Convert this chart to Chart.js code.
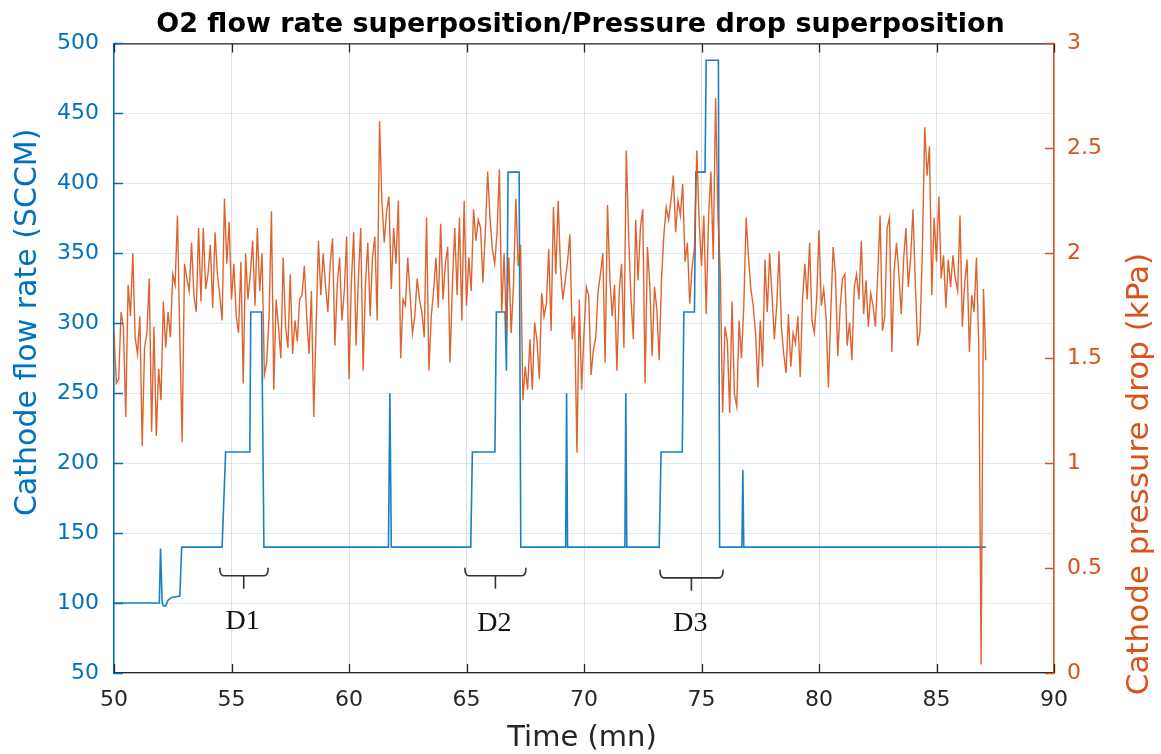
<!DOCTYPE html>
<html>
<head>
<meta charset="utf-8">
<title>O2 flow rate superposition / Pressure drop superposition</title>
<script src="https://cdn.jsdelivr.net/npm/chart.js@4.4.1/dist/chart.umd.min.js"></script>
<style>
  html, body { margin: 0; padding: 0; background: #fff; }
  #chart { display: block; background: #fff; }
</style>
</head>
<body>
<canvas id="chart" width="1161" height="754"></canvas>
<script>
// axis ticks
const timeTicks = [50, 55, 60, 65, 70, 75, 80, 85, 90];
const flowTicks = [50, 100, 150, 200, 250, 300, 350, 400, 450, 500];
const pressureTicks = [0, 0.5, 1, 1.5, 2, 2.5, 3];

// O2 flow rate (SCCM), step profile
const flowTime = [50.0, 51.93, 51.98, 52.05, 52.1, 52.2, 52.3, 52.45, 52.8, 52.88,
    54.6, 54.75, 55.78, 55.82, 56.28, 56.38,
    61.68, 61.74, 61.8,
    65.18, 65.25, 66.21, 66.27, 66.64, 66.70, 66.77, 67.24, 67.31,
    69.22, 69.26, 69.30, 71.74, 71.78, 71.82,
    73.2, 73.28, 74.18, 74.25, 74.7, 74.76, 75.15, 75.2, 75.72, 75.77,
    76.72, 76.76, 76.8, 87.1];
const flowRate = [100, 100, 139, 100, 98, 98, 102, 104, 105, 140,
    140, 208, 208, 308, 308, 140,
    140, 250, 140,
    140, 208, 208, 308, 308, 266, 408, 408, 140,
    140, 250, 140, 140, 250, 140,
    140, 208, 208, 308, 308, 408, 408, 488, 488, 140,
    140, 195, 140, 140];

// cathode pressure drop (kPa), one reading every 0.1 mn from 50.0
const pressureStart = 50.0;
const pressureStep = 0.1;
const pressureDrop = [
    1.62, 1.38, 1.40, 1.72, 1.65, 1.22, 1.85, 1.70, 2.00, 1.60, // 50
    1.52, 1.70, 1.08, 1.55, 1.62, 1.88, 1.15, 1.65, 1.13, 1.45, // 51
    1.30, 1.77, 1.55, 1.72, 1.60, 1.90, 1.85, 2.18, 1.60, 1.10, // 52
    1.95, 1.88, 1.82, 2.05, 1.80, 1.72, 2.12, 1.77, 2.12, 1.83, // 53
    1.90, 2.04, 1.74, 2.10, 1.90, 1.80, 1.68, 2.26, 1.95, 2.15, // 54
    1.78, 1.95, 1.70, 1.62, 1.96, 1.38, 2.00, 1.78, 1.90, 2.06, // 55
    1.75, 2.12, 1.82, 2.00, 1.42, 1.48, 1.70, 2.20, 1.35, 1.78, // 56
    1.65, 1.50, 1.98, 1.65, 1.55, 1.90, 1.52, 1.68, 1.58, 1.78, // 57
    1.80, 1.94, 1.70, 1.52, 1.82, 1.22, 1.65, 2.06, 1.80, 2.00, // 58
    1.85, 1.72, 1.95, 2.07, 1.56, 1.85, 1.98, 1.68, 1.82, 2.08, // 59
    1.40, 1.86, 2.10, 1.56, 1.88, 2.12, 1.44, 1.85, 2.05, 1.70, // 60
    1.98, 2.08, 1.68, 2.63, 2.25, 2.05, 2.20, 2.27, 1.83, 2.12, // 61
    1.95, 2.25, 1.50, 1.78, 1.75, 1.98, 1.80, 1.62, 1.70, 1.88, // 62
    1.78, 1.72, 1.60, 2.17, 1.44, 1.70, 1.82, 1.98, 1.74, 2.14, // 63
    1.78, 1.95, 2.03, 1.48, 1.85, 2.12, 1.80, 2.17, 1.68, 2.25, // 64
    1.75, 1.98, 1.82, 2.21, 2.06, 2.16, 2.12, 1.86, 2.10, 2.39, // 65
    2.17, 2.02, 1.95, 2.10, 2.40, 1.72, 2.00, 1.63, 1.98, 1.62, // 66
    1.85, 2.26, 1.94, 2.04, 1.30, 1.46, 1.35, 1.59, 1.35, 1.67, // 67
    1.58, 1.40, 1.81, 1.70, 1.76, 2.02, 1.63, 2.22, 1.90, 2.25, // 68
    1.93, 1.78, 1.87, 1.96, 2.09, 1.59, 1.70, 1.05, 1.78, 1.35, // 69
    1.62, 1.84, 1.80, 1.42, 1.54, 1.60, 1.82, 1.90, 2.00, 1.48, // 70
    2.23, 1.88, 1.70, 1.85, 1.44, 1.82, 1.95, 1.55, 2.49, 2.08, // 71
    1.78, 1.59, 2.16, 1.87, 2.12, 2.21, 1.38, 2.03, 1.85, 1.51, // 72
    1.84, 1.73, 1.49, 1.88, 2.09, 2.22, 2.16, 2.25, 2.37, 2.10, // 73
    2.25, 2.18, 2.33, 1.96, 2.05, 1.76, 1.93, 2.03, 2.49, 2.15, // 74
    1.94, 2.18, 1.71, 2.17, 2.39, 1.97, 2.74, 2.18, 1.90, 1.24, // 75
    1.65, 1.58, 1.24, 1.77, 1.33, 1.27, 1.68, 1.50, 1.75, 2.17, // 76
    1.98, 1.83, 1.75, 1.62, 1.36, 1.68, 1.46, 1.97, 1.72, 2.00, // 77
    1.80, 1.59, 1.75, 2.01, 1.65, 1.52, 1.43, 1.71, 1.46, 1.62, // 78
    1.57, 1.70, 1.41, 1.78, 1.95, 1.78, 2.05, 1.68, 1.62, 1.78, // 79
    2.11, 1.75, 1.83, 1.70, 1.36, 1.71, 2.03, 1.90, 1.51, 1.74, // 80
    1.88, 1.90, 1.56, 1.67, 1.49, 1.84, 1.90, 1.78, 2.06, 1.71, // 81
    1.87, 1.65, 1.81, 1.75, 1.65, 1.90, 2.18, 1.63, 1.70, 2.12, // 82
    2.17, 1.53, 1.92, 2.05, 1.90, 1.71, 1.97, 2.12, 1.84, 1.98, // 83
    2.21, 1.85, 1.56, 1.63, 2.02, 2.60, 2.37, 2.51, 1.80, 2.17, // 84
    1.96, 2.27, 1.88, 1.99, 1.74, 1.97, 1.84, 1.99, 1.88, 1.82, // 85
    2.18, 1.65, 1.86, 1.97, 1.53, 1.80, 1.72, 1.98, 1.55, 0.04, // 86
    1.83, 1.49                                                  // 87
];

// D1..D3 brackets under the flow steps (time in mn, level in SCCM)
const stepLabels = ['D1', 'D2', 'D3'];
const stepFrom = [54.50, 64.93, 73.23];
const stepTo = [56.56, 67.53, 75.92];
const stepMid = [55.52, 66.23, 74.57];
const stepLevel = [119.5, 119.5, 118];
const stepTextLevel = [86.5, 85, 85];

const BLUE = '#0072BD';
const ORANGE = '#D95319';
const DARK = '#262626';
const FONT = 'DejaVu Sans';

const flowPoints = flowTime.map((t, i) => ({ x: t, y: flowRate[i] }));
const pressurePoints = pressureDrop.map((v, i) => ({
    x: +(pressureStart + i * pressureStep).toFixed(2),
    y: v
}));

const useTicks = (list) => (scale) => {
    scale.ticks = list.map(v => ({ value: v }));
};

function drawText(ctx, text, x, y, font, color, angle) {
    ctx.save();
    ctx.translate(x, y);
    ctx.rotate(angle || 0);
    ctx.font = font;
    ctx.fillStyle = color;
    ctx.textAlign = 'center';
    ctx.textBaseline = 'middle';
    ctx.fillText(text, 0, 0);
    ctx.restore();
}

// matlab-like frame: inward ticks, top box line, rotated axis labels, D brackets
const matlabFrame = {
    id: 'matlabFrame',
    afterDraw(chart) {
        const { ctx, chartArea: a, scales } = chart;
        const sx = scales.x, sy = scales.y, sy1 = scales.y1;
        const tick = 9;

        ctx.save();
        ctx.lineWidth = 1.3;
        ctx.strokeStyle = DARK;
        ctx.beginPath();
        ctx.moveTo(a.left, a.top + 0.5);
        ctx.lineTo(a.right, a.top + 0.5);
        timeTicks.forEach(t => {
            const px = Math.round(sx.getPixelForValue(t)) + 0.5;
            ctx.moveTo(px, a.bottom);
            ctx.lineTo(px, a.bottom - tick);
            ctx.moveTo(px, a.top);
            ctx.lineTo(px, a.top + tick);
        });
        ctx.stroke();

        ctx.strokeStyle = BLUE;
        ctx.beginPath();
        flowTicks.forEach(v => {
            const py = Math.round(sy.getPixelForValue(v)) + 0.5;
            ctx.moveTo(a.left, py);
            ctx.lineTo(a.left + tick, py);
        });
        ctx.stroke();

        ctx.strokeStyle = ORANGE;
        ctx.beginPath();
        pressureTicks.forEach(v => {
            const py = Math.round(sy1.getPixelForValue(v)) + 0.5;
            ctx.moveTo(a.right, py);
            ctx.lineTo(a.right - tick, py);
        });
        ctx.stroke();

        // brackets
        ctx.strokeStyle = '#333';
        ctx.lineWidth = 1.6;
        stepLabels.forEach((label, i) => {
            const x0 = sx.getPixelForValue(stepFrom[i]);
            const x1 = sx.getPixelForValue(stepTo[i]);
            const xm = sx.getPixelForValue(stepMid[i]);
            const yl = sy.getPixelForValue(stepLevel[i]);
            ctx.beginPath();
            ctx.moveTo(x0, yl - 8);
            ctx.quadraticCurveTo(x0, yl, x0 + 4, yl);
            ctx.lineTo(x1 - 4, yl);
            ctx.quadraticCurveTo(x1, yl, x1, yl - 8);
            ctx.moveTo(xm, yl);
            ctx.lineTo(xm, yl + 13);
            ctx.stroke();
            drawText(ctx, label, xm - 1, sy.getPixelForValue(stepTextLevel[i]),
                '28px "Liberation Serif"', '#111', 0);
        });

        // axis titles
        const h = a.bottom - a.top;
        drawText(ctx, 'Time (mn)', (a.left + a.right) / 2 - 2, a.bottom + 65,
            '29px "' + FONT + '"', DARK, 0);
        drawText(ctx, 'Cathode flow rate (SCCM)', 28, a.top + 0.443 * h,
            '30px "' + FONT + '"', BLUE, -Math.PI / 2);
        drawText(ctx, 'Cathode pressure drop (kPa)', 1140, a.top + 0.684 * h,
            '31px "' + FONT + '"', ORANGE, -Math.PI / 2);
        ctx.restore();
    }
};

new Chart(document.getElementById('chart'), {
    type: 'line',
    data: {
        datasets: [{
            label: 'Cathode pressure drop',
            data: pressurePoints,
            yAxisID: 'y1',
            borderColor: 'rgba(217, 83, 25, 0.9)',
            borderWidth: 1.4,
            pointRadius: 0,
            tension: 0
        }, {
            label: 'Cathode flow rate',
            data: flowPoints,
            yAxisID: 'y',
            borderColor: 'rgba(0, 114, 189, 0.9)',
            borderWidth: 1.6,
            pointRadius: 0,
            tension: 0
        }]
    },
    options: {
        responsive: false,
        animation: false,
        devicePixelRatio: 1,
        plugins: {
            legend: { display: false },
            tooltip: { enabled: false },
            title: {
                display: true,
                text: 'O2 flow rate superposition/Pressure drop superposition',
                color: '#000',
                font: { family: FONT, size: 27, weight: 'bold' },
                padding: { top: 9, bottom: 2 }
            }
        },
        scales: {
            x: {
                type: 'linear',
                position: 'bottom',
                min: 50,
                max: 90,
                afterBuildTicks: useTicks(timeTicks),
                afterFit: (s) => { s.height = 81; },
                ticks: { color: DARK, font: { family: FONT, size: 22 }, padding: 14, maxRotation: 0 },
                grid: { color: 'rgba(38, 38, 38, 0.15)', drawTicks: false },
                border: { color: DARK, width: 1.3 }
            },
            y: {
                type: 'linear',
                position: 'left',
                min: 50,
                max: 500,
                afterBuildTicks: useTicks(flowTicks),
                afterFit: (s) => { s.width = 114; },
                ticks: { color: BLUE, font: { family: FONT, size: 22 }, padding: 15 },
                grid: { color: 'rgba(0, 114, 189, 0.15)', drawTicks: false },
                border: { color: BLUE, width: 1.5 }
            },
            y1: {
                type: 'linear',
                position: 'right',
                min: 0,
                max: 3,
                afterBuildTicks: useTicks(pressureTicks),
                afterFit: (s) => { s.width = 107; },
                ticks: {
                    color: ORANGE,
                    font: { family: FONT, size: 22 },
                    padding: 13,
                    callback: (v) => String(v)
                },
                grid: { drawOnChartArea: false, drawTicks: false },
                border: { color: ORANGE, width: 1.5 }
            }
        }
    },
    plugins: [matlabFrame]
});
</script>
</body>
</html>
